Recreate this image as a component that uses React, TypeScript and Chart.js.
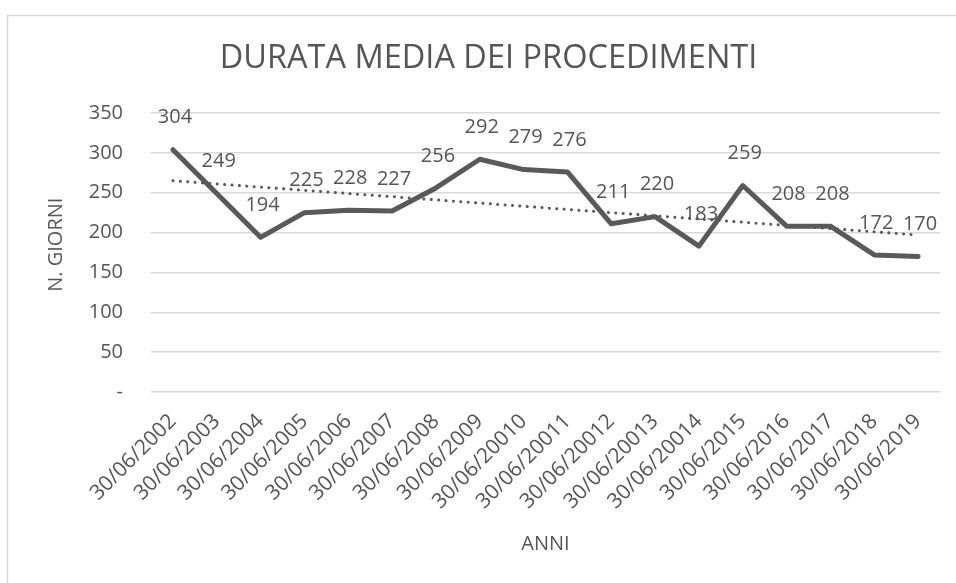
import React, { useEffect, useRef } from "react";
import { Chart, registerables } from "chart.js";

Chart.register(...registerables);

const TITLE = "DURATA MEDIA DEI PROCEDIMENTI";
const Y_TITLE = "   N. GIORNI";
const X_TITLE = "ANNI";

const categories = [
  "30/06/2002", "30/06/2003", "30/06/2004", "30/06/2005", "30/06/2006",
  "30/06/2007", "30/06/2008", "30/06/2009", "30/06/20010", "30/06/20011",
  "30/06/20012", "30/06/20013", "30/06/20014", "30/06/2015", "30/06/2016",
  "30/06/2017", "30/06/2018", "30/06/2019",
];

const durata = [304, 249, 194, 225, 228, 227, 256, 292, 279, 276, 211, 220, 183, 259, 208, 208, 172, 170];

// linear trend line end values
const trendStart = 265;
const trendEnd = 197;

const yTicks = [0, 50, 100, 150, 200, 250, 300, 350];

const FONT = "'Open Sans', 'Noto Sans', sans-serif";
const TEXT = "#555555";

const W = 977;
const H = 583;
const PAD = W - 940;

const framePlugin = {
  id: "frame",
  beforeDraw(chart: any) {
    const ctx = chart.ctx;
    ctx.save();
    ctx.fillStyle = "#ffffff";
    ctx.fillRect(0, 0, chart.width, chart.height);
    ctx.strokeStyle = "#d9d9d9";
    ctx.lineWidth = 1.5;
    ctx.strokeRect(7.5, 15.5, 2000, 2000);
    ctx.restore();
  },
};

const labelPlugin = {
  id: "valueLabels",
  afterDatasetsDraw(chart: any) {
    const ctx = chart.ctx;
    const meta = chart.getDatasetMeta(0);
    ctx.save();
    ctx.font = `20px ${FONT}`;
    ctx.fillStyle = TEXT;
    ctx.textAlign = "center";
    ctx.textBaseline = "middle";
    meta.data.forEach((el: any, i: number) => {
      ctx.fillText(String(durata[i]), el.x + 2, el.y - 32);
    });
    ctx.restore();
  },
};

export default function App() {
  const ref = useRef<HTMLCanvasElement>(null);
  useEffect(() => {
    if (!ref.current) return;
    const chart = new Chart(ref.current, {
      type: "line",
      data: {
        labels: categories,
        datasets: [
          {
            label: "Durata",
            data: durata,
            borderColor: "#595959",
            borderWidth: 5,
            pointRadius: 0,
            tension: 0,
            borderJoinStyle: "round",
            borderCapStyle: "round",
            fill: false,
          },
          {
            label: "Tendenza",
            data: [
              { x: categories[0], y: trendStart },
              { x: categories[categories.length - 1], y: trendEnd },
            ],
            borderColor: "#595959",
            borderWidth: 3,
            borderDash: [0.1, 7.3],
            borderCapStyle: "round",
            pointRadius: 0,
            fill: false,
          },
        ],
      },
      options: {
        responsive: false,
        animation: false,
        devicePixelRatio: 1,
        layout: { padding: { left: PAD, right: PAD, top: 0, bottom: 0 } },
        plugins: {
          legend: { display: false },
          tooltip: { enabled: false },
          title: {
            display: true,
            text: TITLE,
            color: TEXT,
            font: { family: FONT, size: 32.5, weight: "normal", lineHeight: 1.2 },
            padding: { top: 39, bottom: 113 - 39 - 39 },
          },
        },
        scales: {
          x: {
            type: "category",
            offset: true,
            grid: { display: false, drawTicks: false, offset: true },
            border: { display: false },
            ticks: {
              color: TEXT,
              font: { family: FONT, size: 21 },
              minRotation: 45,
              maxRotation: 45,
              autoSkip: false,
              padding: 17,
            },
            title: {
              display: true,
              text: X_TITLE,
              color: TEXT,
              font: { family: FONT, size: 20 },
              padding: { top: 0, bottom: 27 },
            },
            afterFit(scale: any) {
              scale.height = H - 392;
            },
          },
          y: {
            min: 0,
            max: 350,
            afterBuildTicks(scale: any) {
              scale.ticks = yTicks.map((v) => ({ value: v }));
            },
            grid: { color: "#d9d9d9", lineWidth: 1.5, drawTicks: false },
            border: { display: false },
            ticks: {
              color: TEXT,
              font: { family: FONT, size: 20 },
              padding: 28,
              callback: (v: any) => (Number(v) === 0 ? "-" : String(v)),
            },
            title: {
              display: true,
              text: Y_TITLE,
              color: TEXT,
              font: { family: FONT, size: 20 },
              padding: { top: 7, bottom: 0 },
            },
            afterFit(scale: any) {
              scale.width = 151 - PAD;
            },
          },
        },
      },
      plugins: [framePlugin, labelPlugin],
    });
    return () => chart.destroy();
  }, []);

  return (
    <div style={{ position: "absolute", left: 0, top: 0, width: 956, height: 583, overflow: "hidden", background: "#fff" }}>
      <canvas ref={ref} width={W} height={H} style={{ width: W, height: H, display: "block" }} />
    </div>
  );
}
